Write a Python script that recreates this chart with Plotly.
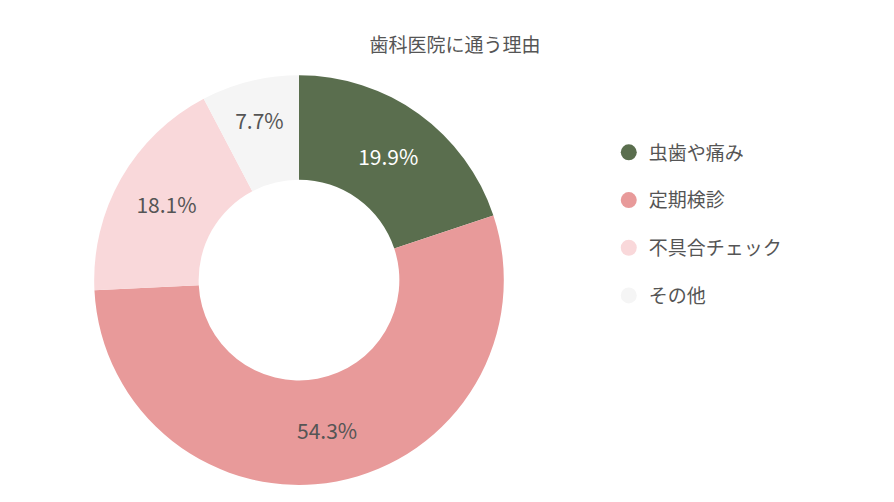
import plotly.graph_objects as go

labels = ["虫歯や痛み", "定期検診", "不具合チェック", "その他"]
values = [19.9, 54.3, 18.1, 7.7]
colors = ["#5a6e4e", "#e89a9a", "#f9d8da", "#f5f5f5"]
text_colors = ["#ffffff", "#555555", "#555555", "#555555"]
title = "歯科医院に通う理由"
font = "Noto Sans CJK JP"

fig = go.Figure()
fig.add_trace(go.Pie(
    labels=labels, values=values, hole=0.49, sort=False, direction="clockwise",
    rotation=0, marker=dict(colors=colors), showlegend=False,
    texttemplate="%{value:.1f}%", textposition="inside", insidetextorientation="horizontal",
    textfont=dict(size=21, color=text_colors, family=font),
    domain=dict(x=[0.096, 0.555], y=[0.05, 0.866]), hoverinfo="skip",
))
for i, (l, c) in enumerate(zip(labels, colors)):
    fig.add_trace(go.Scatter(x=[None], y=[None], mode="markers", name=l, legendgroup=str(i),
                             marker=dict(size=22, color=c, symbol="circle")))
fig.update_layout(
    width=894, height=502, margin=dict(l=0, r=0, t=0, b=0),
    paper_bgcolor="white", plot_bgcolor="white",
    font=dict(family=font, color="#555555"),
    title=dict(text=title, x=0.5, y=0.925, xanchor="center", yanchor="middle",
               font=dict(size=19, color="#555555", family=font)),
    xaxis=dict(visible=False), yaxis=dict(visible=False),
    legend=dict(x=0.672, y=0.75, xanchor="left", yanchor="top",
                font=dict(size=19, color="#555555", family=font),
                tracegroupgap=20, itemsizing="trace", itemwidth=30),
)
fig.write_html("out.html")
